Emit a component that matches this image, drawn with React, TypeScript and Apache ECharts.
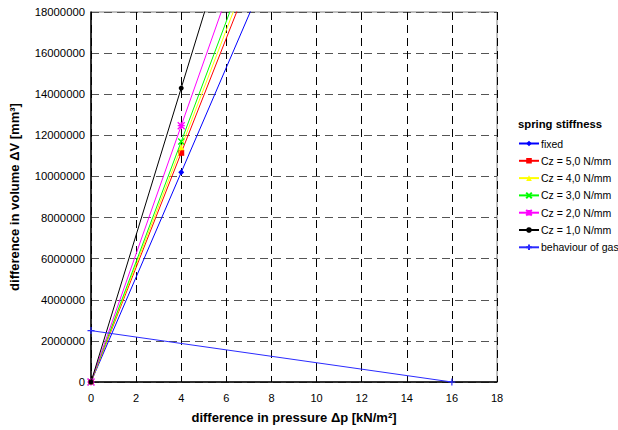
import React, { useEffect, useRef } from "react";
import * as echarts from "echarts";

const xTicks = [0, 2, 4, 6, 8, 10, 12, 14, 16, 18];
const seriesNames = [
  "fixed",
  "Cz = 5,0 N/mm",
  "Cz = 4,0 N/mm",
  "Cz = 3,0 N/mm",
  "Cz = 2,0 N/mm",
  "Cz = 1,0 N/mm",
  "behaviour of gas",
];
const seriesColors = ["#0000ff", "#ff0000", "#ffff00", "#00ff00", "#ff00ff", "#000000", "#2b2bff"];
// pressure points and volumes per spring stiffness
const pressure = [0, 4, 8];
const fixedV = [0, 10200000, 20400000];
const cz5V = [0, 11150000, 22300000];
const cz4V = [0, 11420000, 22840000];
const cz3V = [0, 11700000, 23400000];
const cz2V = [0, 12470000, 24940000];
const cz1V = [0, 14300000, 28600000];
const gasP = [0, 16];
const gasV = [2500000, 0];

const symbols = [
  "diamond",
  "rect",
  "triangle",
  "path://M0,0L10,10M10,0L0,10",
  "path://M0,0L10,10M10,0L0,10M5,0L5,10M0,5L10,5",
  "circle",
  "path://M5,0L5,10M0,5L10,5",
];
const symbolSizes = [6, 6, 6, 6, 7, 5, 7];
const FONT = "Liberation Sans, Arial, sans-serif";

export default function App() {
  const ref = useRef<HTMLDivElement>(null);
  useEffect(() => {
    if (!ref.current) return;
    const chart = echarts.init(ref.current, undefined, { renderer: "svg" });
    const vols = [fixedV, cz5V, cz4V, cz3V, cz2V, cz1V];
    const series: any[] = vols.map((v, i) => ({
      name: seriesNames[i],
      type: "line",
      data: pressure.map((p, j) => [p, v[j]]),
      clip: true,
      symbol: symbols[i],
      symbolSize: symbolSizes[i],
      showAllSymbol: true,
      lineStyle: { color: seriesColors[i], width: 1 },
      itemStyle: { color: seriesColors[i], borderColor: seriesColors[i], borderWidth: i === 3 || i === 4 ? 1.3 : 0 },
      z: 3 + i,
    }));
    series.push({
      name: seriesNames[6],
      type: "line",
      data: gasP.map((p, j) => [p, gasV[j]]),
      clip: true,
      symbol: symbols[6],
      symbolSize: symbolSizes[6],
      lineStyle: { color: seriesColors[6], width: 1 },
      itemStyle: { color: seriesColors[6], borderColor: seriesColors[6], borderWidth: 1.2 },
      z: 10,
    });
    chart.setOption({
      animation: false,
      textStyle: { fontFamily: FONT },
      grid: {
        left: 91,
        right: 121,
        top: 12,
        bottom: 48,
        outerBoundsMode: "none",
        containLabel: false,
        show: true,
        borderColor: "#808080",
        borderWidth: 1,
        backgroundColor: "transparent",
      },
      xAxis: {
        type: "value",
        min: 0,
        max: 18,
        interval: 2,
        name: "difference in pressure Δp [kN/m²]",
        nameLocation: "middle",
        nameGap: 29,
        nameTextStyle: { fontSize: 13, fontWeight: "bold", color: "#000" },
        axisLine: { show: true, lineStyle: { color: "#000", width: 1.5 } },
        axisTick: { show: false },
        axisLabel: { color: "#000", fontSize: 11, margin: 10 },
        splitLine: { show: true, lineStyle: { color: "#000", type: [8, 5], width: 1 } },
      },
      yAxis: {
        type: "value",
        min: 0,
        max: 18000000,
        interval: 2000000,
        name: "difference in volume ΔV [mm³]",
        nameLocation: "middle",
        nameGap: 70,
        nameTextStyle: { fontSize: 13, fontWeight: "bold", color: "#000" },
        axisLine: { show: true, lineStyle: { color: "#000", width: 1.5 } },
        axisTick: { show: false },
        axisLabel: { color: "#000", fontSize: 11.3, margin: 6, formatter: (v: number) => String(v) },
        splitLine: { show: true, lineStyle: { color: "#555", type: [8, 5], width: 1 } },
      },
      legend: {
        orient: "vertical",
        left: 513,
        top: 133,
        itemWidth: 20,
        itemHeight: 7,
        itemGap: 6.3,
        textStyle: { fontSize: 10.5, color: "#000", padding: [0, 0, 0, -3] },
        data: seriesNames,
      },
      graphic: [
        {
          type: "text",
          left: 518,
          top: 118,
          style: { text: "spring stiffness", fontSize: 11.3, fontWeight: "bold", fill: "#000", fontFamily: FONT },
        },
      ],
      series,
    });
    return () => chart.dispose();
  }, []);
  return <div ref={ref} style={{ width: 618, height: 430, position: "absolute", left: 0, top: 0 }} />;
}
